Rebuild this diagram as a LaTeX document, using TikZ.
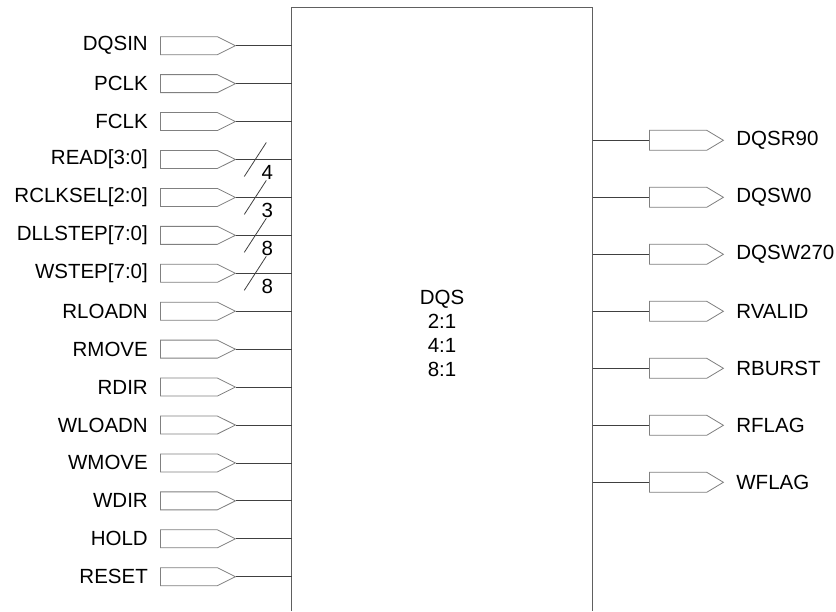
\documentclass[tikz,border=0pt]{standalone}
\usepackage{fontspec}
\setmainfont{Liberation Sans}
\usetikzlibrary{shapes.symbols,calc}

\begin{document}
\begin{tikzpicture}[x=1pt,y=-1pt,
    every node/.style={font=\fontsize{20.5}{24}\selectfont},
    inpin/.style={signal, signal to=east, draw=pingray, line width=0.8pt, anchor=west,
      minimum width=75pt, minimum height=18pt, inner sep=0pt, signal pointer angle=53},
    outpin/.style={signal, signal to=east, draw=pingray, line width=0.8pt, anchor=west,
      minimum width=74pt, minimum height=20pt, inner sep=0pt, signal pointer angle=62},
    wire/.style={draw=wiregray, line width=0.8pt}]

    % Define the colors
    \definecolor{pingray}{RGB}{128, 128, 128}
    \definecolor{wiregray}{RGB}{64, 64, 64}
    \definecolor{boxgray}{RGB}{96, 96, 96}

    \useasboundingbox (0,0) rectangle (836,611);

    % Draw the DQS block (open at the bottom)
    \coordinate (box-w) at (291.7,611);
    \coordinate (box-e) at (592.7,611);
    \draw[draw=boxgray, line width=0.8pt] (box-w) |- (592.7,7.3) -- (box-e);
    \node[align=center, font=\fontsize{20.5}{24}\selectfont] (dqs) at (442,333) {DQS\\2:1\\4:1\\8:1};

    % Draw the input pins
    \foreach \name [count=\i from 0] in {DQSIN, PCLK, FCLK, READ[3:0], RCLKSEL[2:0], DLLSTEP[7:0], WSTEP[7:0],
        RLOADN, RMOVE, RDIR, WLOADN, WMOVE, WDIR, HOLD, RESET} {
      \node[inpin] (in-\i) at (160, 45.7+37.93*\i) {};
      \node[anchor=east, inner sep=0pt] (in-label-\i) at ($(in-\i.west)+(-12,0)$) {\name};
      \path[wire] (in-\i.east) -- (in-\i.east -| box-w);
    }

    % Draw the bus widths
    \foreach \i/\width in {3/4, 4/3, 5/8, 6/8} {
      \draw[wire] ($(in-\i.east)+(8,17)$) -- ++(22,-34);
      \node[inner sep=0pt] (bus-\i) at ($(in-\i.east)+(31,13)$) {\width};
    }

    % Draw the output pins
    \foreach \name [count=\j from 0] in {DQSR90, DQSW0, DQSW270, RVALID, RBURST, RFLAG, WFLAG} {
      \node[outpin] (out-\j) at (649, 140.3+57*\j) {};
      \node[anchor=west, inner sep=0pt] (out-label-\j) at ($(out-\j.east)+(12,0)$) {\name};
      \path[wire] (out-\j.west -| box-e) -- (out-\j.west);
    }

\end{tikzpicture}
\end{document}
